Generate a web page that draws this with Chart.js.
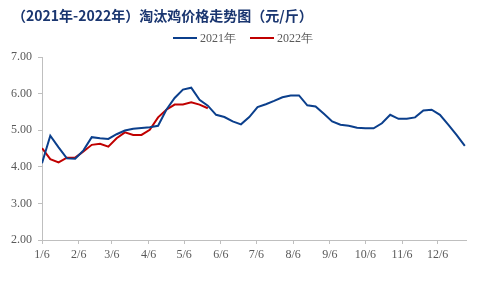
<!DOCTYPE html>
<html>
<head>
<meta charset="utf-8">
<script src="https://cdn.jsdelivr.net/npm/chart.js@4/dist/chart.umd.min.js"></script>
<style>
  html, body { margin: 0; padding: 0; background: #fff; }
  #wrap { position: relative; width: 480px; height: 288px; }
  #title {
    position: absolute; left: 12px; top: 6px;
    font: bold 14px/18px "Noto Sans CJK SC", sans-serif;
    color: #1a3670; white-space: nowrap;
  }
  #legend-container {
    position: absolute; left: 173px; top: 30px;
    display: flex; align-items: center;
    font: 12px/16px "Liberation Serif", "Times New Roman", serif;
    color: #595959;
  }
  .legend-item { display: flex; align-items: center; margin-right: 14px; }
  .legend-line { width: 24px; height: 2px; margin-right: 3px; }
</style>
</head>
<body>
<div id="wrap">
  <canvas id="myChart" width="480" height="288"></canvas>
  <div id="title">（2021年-2022年）淘汰鸡价格走势图（元/斤）</div>
  <div id="legend-container"></div>
</div>
<script>
// 周度数据（年内第几天）
const weekDays = [6, 13, 20, 27, 34, 41, 48, 55, 62, 69, 76, 83, 90, 97, 104, 111, 118, 125, 132, 139,
  146, 153, 160, 167, 174, 181, 188, 195, 202, 209, 216, 223, 230, 237, 244, 251, 258, 265, 272, 279,
  286, 293, 300, 307, 314, 321, 328, 335, 342, 349, 356, 363];

const price2021 = [4.10, 4.85, 4.53, 4.23, 4.22, 4.45, 4.81, 4.78, 4.76, 4.89, 4.99, 5.04, 5.06, 5.08,
  5.12, 5.56, 5.88, 6.11, 6.16, 5.83, 5.67, 5.42, 5.36, 5.24, 5.16, 5.36, 5.63, 5.71, 5.80, 5.90,
  5.95, 5.95, 5.68, 5.65, 5.45, 5.24, 5.15, 5.12, 5.07, 5.05, 5.05, 5.19, 5.42, 5.31, 5.31, 5.35,
  5.54, 5.56, 5.42, 5.15, 4.87, 4.57];

const price2022 = [4.51, 4.21, 4.12, 4.25, 4.25, 4.42, 4.60, 4.63, 4.55, 4.78, 4.94, 4.87, 4.87, 5.01,
  5.35, 5.56, 5.70, 5.70, 5.76, 5.70, 5.60];

// 横轴刻度：每月6日
const tickDays = [6, 37, 65, 96, 126, 157, 187, 218, 249, 279, 310, 340];
const tickLabels = ["1/6", "2/6", "3/6", "4/6", "5/6", "6/6", "7/6", "8/6", "9/6", "10/6", "11/6", "12/6"];

const toPoints = (vals) => vals.map((v, i) => ({ x: weekDays[i], y: v }));

const BLUE = "#0b3f8c";
const RED = "#c00000";
const AXIS = "#bfbfbf";
const TEXT = "#595959";
const serif = "'Liberation Serif', 'Times New Roman', serif";

// html 범례
const htmlLegendPlugin = {
  id: "htmlLegend",
  afterUpdate(chart, args, options) {
    const box = document.getElementById(options.containerID);
    box.innerHTML = "";
    chart.data.datasets.forEach((ds) => {
      const item = document.createElement("div");
      item.className = "legend-item";
      const line = document.createElement("span");
      line.className = "legend-line";
      line.style.background = ds.borderColor;
      const text = document.createElement("span");
      text.textContent = ds.label;
      item.appendChild(line);
      item.appendChild(text);
      box.appendChild(item);
    });
  },
};

const config = {
  type: "line",
  data: {
    datasets: [
      {
        label: "2021年",
        data: toPoints(price2021),
        borderColor: BLUE,
        backgroundColor: BLUE,
        borderWidth: 2,
        pointRadius: 0,
        tension: 0,
      },
      {
        label: "2022年",
        data: toPoints(price2022),
        borderColor: RED,
        backgroundColor: RED,
        borderWidth: 2,
        pointRadius: 0,
        tension: 0,
      },
    ],
  },
  options: {
    responsive: false,
    animation: false,
    layout: { padding: { left: 0, right: 14, top: 57, bottom: 0 } },
    plugins: {
      htmlLegend: { containerID: "legend-container" },
      title: { display: false },
      legend: { display: false },
      tooltip: { enabled: false },
    },
    scales: {
      x: {
        type: "linear",
        min: 6,
        max: 364,
        afterBuildTicks: (axis) => {
          axis.ticks = tickDays.map((d) => ({ value: d }));
        },
        afterFit: (axis) => { axis.height = 48; },
        grid: { display: true, drawOnChartArea: false, drawTicks: true, tickLength: 4, color: AXIS },
        border: { display: true, color: AXIS },
        ticks: {
          autoSkip: false,
          maxRotation: 0,
          color: TEXT,
          font: { family: serif, size: 12 },
          padding: 4,
          callback: (v) => tickLabels[tickDays.indexOf(v)],
        },
      },
      y: {
        min: 2,
        max: 7,
        afterFit: (axis) => { axis.width = 42; },
        grid: { display: true, drawOnChartArea: false, drawTicks: true, tickLength: 4, color: AXIS },
        border: { display: true, color: AXIS },
        ticks: {
          stepSize: 1,
          color: TEXT,
          font: { family: serif, size: 12 },
          padding: 6,
          callback: (v) => v.toFixed(2),
        },
      },
    },
  },
  plugins: [htmlLegendPlugin],
};

const ctx = document.getElementById("myChart").getContext("2d");
const myChart = new Chart(ctx, config);
</script>
</body>
</html>
